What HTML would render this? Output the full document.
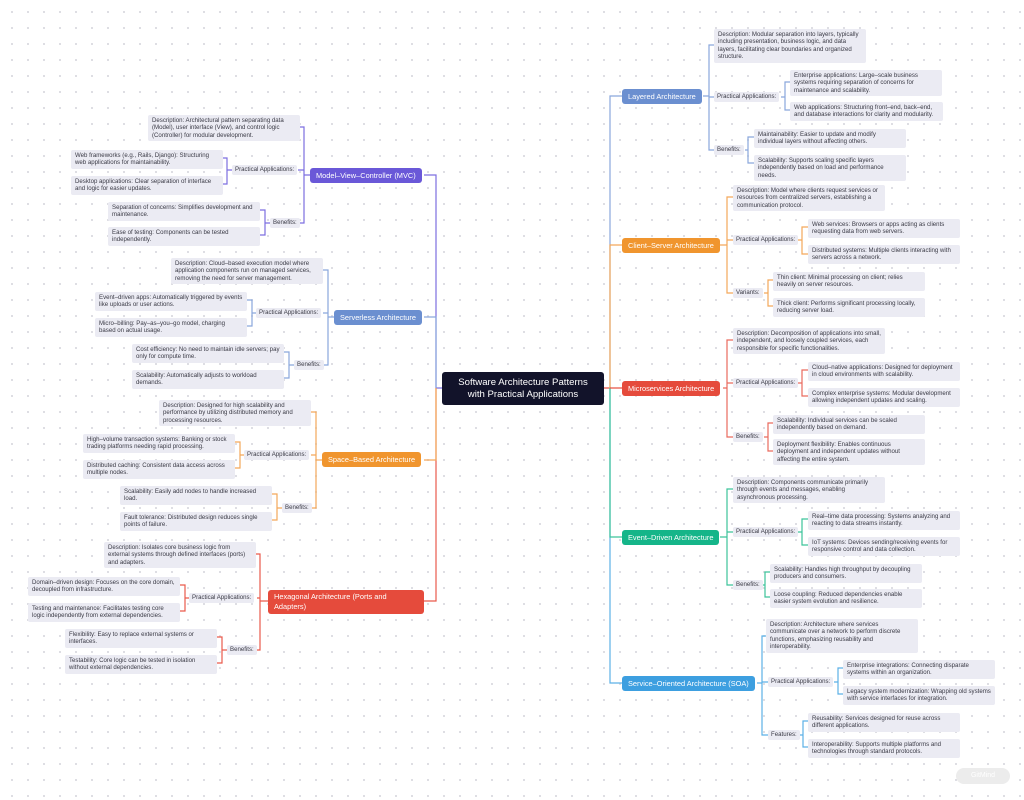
<!DOCTYPE html>
<html><head><meta charset="utf-8"><style>
html,body{margin:0;padding:0}
body{width:1024px;height:800px;position:relative;overflow:hidden;background-color:#fff;background-image:radial-gradient(circle,#d8d8de 0.8px,transparent 1.2px);background-size:16px 16px;background-position:4px 4px;font-family:"Liberation Sans",sans-serif}
.b{position:absolute;background:#ebebf3;color:#3a3a45;font-size:6.1px;line-height:7.4px;padding:2px 4px;border-radius:2px;box-sizing:border-box}
.l{position:absolute;background:#ebebf3;color:#3a3a45;font-size:6.1px;line-height:9px;height:10px;padding:0 3px;border-radius:2px;white-space:nowrap}
.m{position:absolute;color:#fff;font-size:7.4px;line-height:15px;height:15px;padding:0 6px;border-radius:3px;white-space:nowrap;box-sizing:border-box}
svg{position:absolute;left:0;top:0}
</style></head><body>
<svg width="1024" height="800" fill="none" stroke-width="1.2">
<!-- right trunk -->
<path d="M604 388H610" stroke="#e54b3c"/>
<path d="M610 388V96H622" stroke="#8aa7dc"/>
<path d="M610 388V245H622" stroke="#f3a85a"/>
<path d="M610 388V683H622" stroke="#5cb0e6"/>
<path d="M610 388V537H622" stroke="#3cc39a"/>
<path d="M610 388H622" stroke="#e54b3c"/>
<!-- left trunk -->
<path d="M442 388H436V175H424" stroke="#7d6fe0"/>
<path d="M436 388V317H424" stroke="#8aa7dc"/>
<path d="M436 388V601H424" stroke="#ea5a4c"/>
<path d="M436 388V460H424" stroke="#f3a85a"/>
<!-- Layered -->
<g stroke="#8aa7dc"><path d="M703 96H709M714 45H709V150H714M709 97H714"/><path d="M781 97H785M790 82H785V110H790"/><path d="M745 150H748M754 137H748V163H754"/></g>
<!-- Client -->
<g stroke="#f3a85a"><path d="M720 245H727M733 197H727V293H733M727 240H733"/><path d="M798 240H802M808 227H802V254H808"/><path d="M764 293H768M773 280H768V306H773"/></g>
<!-- Micro -->
<g stroke="#ea6a5d"><path d="M723 388H727M733 340H727V437H733M727 383H733"/><path d="M798 383H802M808 370H802V396H808"/><path d="M764 437H768M773 423H768V451H773"/></g>
<!-- Event -->
<g stroke="#3cc39a"><path d="M720 537H727M733 489H727V585H733M727 532H733"/><path d="M798 532H802M808 519H802V545H808"/><path d="M762 585H765M770 572H765V597H770"/></g>
<!-- SOA -->
<g stroke="#5cb0e6"><path d="M757 683H762M766 636H762V735H770M762 682H770"/><path d="M834 682H838M843 668H838V694H843"/><path d="M799 735H803M808 721H803V747H808"/></g>
<!-- MVC -->
<g stroke="#7d6fe0"><path d="M310 175H304M300 127H304V223H298M304 170H298"/><path d="M232 170H227M223 158H227V184H223"/><path d="M270 223H265M260 210H265V235H260"/></g>
<!-- Serverless -->
<g stroke="#8aa7dc"><path d="M334 317H328M323 270H328V365H323M328 313H323"/><path d="M258 313H252M247 300H252V326H247"/><path d="M296 365H289M284 352H289V378H284"/></g>
<!-- Space -->
<g stroke="#f3a85a"><path d="M322 460H316M311 412H316V508H311M316 455H311"/><path d="M246 455H240M235 442H240V468H235"/><path d="M284 508H277M272 494H277V520H272"/></g>
<!-- Hex -->
<g stroke="#ea5a4c"><path d="M268 601H260M255 554H260V650H257M260 598H257"/><path d="M191 598H185M180 585H185V611H180"/><path d="M229 650H222M217 637H222V663H217"/></g>
</svg>

<div style="position:absolute;left:442px;top:372px;width:162px;height:33px;background:#12132a;border-radius:3px;color:#fff;font-size:9.6px;line-height:11.5px;text-align:center;padding-top:5px;box-sizing:border-box">Software Architecture Patterns<br>with Practical Applications</div>

<!-- Right main -->
<div class="m" style="left:622px;top:89px;background:#6b8fd0">Layered Architecture</div>
<div class="m" style="left:622px;top:238px;background:#f0952e">Client–Server Architecture</div>
<div class="m" style="left:622px;top:381px;background:#e54b3c">Microservices Architecture</div>
<div class="m" style="left:622px;top:530px;background:#15b589">Event–Driven Architecture</div>
<div class="m" style="left:622px;top:676px;background:#3d9fe0">Service–Oriented Architecture (SOA)</div>
<!-- Left main -->
<div class="m" style="left:310px;top:168px;background:#6a58d8">Model–View–Controller (MVC)</div>
<div class="m" style="left:334px;top:310px;background:#6b8fd0">Serverless Architecture</div>
<div class="m" style="left:322px;top:452px;background:#f0952e">Space–Based Architecture</div>
<div class="m" style="left:268px;top:590px;height:24px;line-height:10px;padding-top:2px;width:156px;white-space:normal;background:#e54b3c">Hexagonal Architecture (Ports and Adapters)</div>

<!-- Layered -->
<div class="b" style="left:714px;top:29px;width:152px">Description: Modular separation into layers, typically including presentation, business logic, and data layers, facilitating clear boundaries and organized structure.</div>
<div class="l" style="left:714px;top:92px">Practical Applications:</div>
<div class="b" style="left:790px;top:70px;width:152px">Enterprise applications: Large–scale business systems requiring separation of concerns for maintenance and scalability.</div>
<div class="b" style="left:790px;top:102px;width:153px">Web applications: Structuring front–end, back–end, and database interactions for clarity and modularity.</div>
<div class="l" style="left:714px;top:145px">Benefits:</div>
<div class="b" style="left:754px;top:129px;width:152px">Maintainability: Easier to update and modify individual layers without affecting others.</div>
<div class="b" style="left:754px;top:155px;width:152px">Scalability: Supports scaling specific layers independently based on load and performance needs.</div>

<!-- Client -->
<div class="b" style="left:733px;top:185px;width:152px">Description: Model where clients request services or resources from centralized servers, establishing a communication protocol.</div>
<div class="l" style="left:733px;top:235px">Practical Applications:</div>
<div class="b" style="left:808px;top:219px;width:152px">Web services: Browsers or apps acting as clients requesting data from web servers.</div>
<div class="b" style="left:808px;top:245px;width:152px">Distributed systems: Multiple clients interacting with servers across a network.</div>
<div class="l" style="left:733px;top:288px">Variants:</div>
<div class="b" style="left:773px;top:272px;width:152px">Thin client: Minimal processing on client; relies heavily on server resources.</div>
<div class="b" style="left:773px;top:298px;width:152px">Thick client: Performs significant processing locally, reducing server load.</div>

<!-- Micro -->
<div class="b" style="left:733px;top:328px;width:152px">Description: Decomposition of applications into small, independent, and loosely coupled services, each responsible for specific functionalities.</div>
<div class="l" style="left:733px;top:378px">Practical Applications:</div>
<div class="b" style="left:808px;top:362px;width:152px">Cloud–native applications: Designed for deployment in cloud environments with scalability.</div>
<div class="b" style="left:808px;top:388px;width:152px">Complex enterprise systems: Modular development allowing independent updates and scaling.</div>
<div class="l" style="left:733px;top:432px">Benefits:</div>
<div class="b" style="left:773px;top:415px;width:152px">Scalability: Individual services can be scaled independently based on demand.</div>
<div class="b" style="left:773px;top:439px;width:152px">Deployment flexibility: Enables continuous deployment and independent updates without affecting the entire system.</div>

<!-- Event -->
<div class="b" style="left:733px;top:477px;width:152px">Description: Components communicate primarily through events and messages, enabling asynchronous processing.</div>
<div class="l" style="left:733px;top:527px">Practical Applications:</div>
<div class="b" style="left:808px;top:511px;width:152px">Real–time data processing: Systems analyzing and reacting to data streams instantly.</div>
<div class="b" style="left:808px;top:537px;width:152px">IoT systems: Devices sending/receiving events for responsive control and data collection.</div>
<div class="l" style="left:733px;top:580px">Benefits:</div>
<div class="b" style="left:770px;top:564px;width:152px">Scalability: Handles high throughput by decoupling producers and consumers.</div>
<div class="b" style="left:770px;top:589px;width:152px">Loose coupling: Reduced dependencies enable easier system evolution and resilience.</div>

<!-- SOA -->
<div class="b" style="left:766px;top:619px;width:152px">Description: Architecture where services communicate over a network to perform discrete functions, emphasizing reusability and interoperability.</div>
<div class="l" style="left:768px;top:677px">Practical Applications:</div>
<div class="b" style="left:843px;top:660px;width:152px">Enterprise integrations: Connecting disparate systems within an organization.</div>
<div class="b" style="left:843px;top:686px;width:152px">Legacy system modernization: Wrapping old systems with service interfaces for integration.</div>
<div class="l" style="left:768px;top:730px">Features:</div>
<div class="b" style="left:808px;top:713px;width:152px">Reusability: Services designed for reuse across different applications.</div>
<div class="b" style="left:808px;top:739px;width:152px">Interoperability: Supports multiple platforms and technologies through standard protocols.</div>

<!-- MVC -->
<div class="b" style="left:148px;top:115px;width:152px">Description: Architectural pattern separating data (Model), user interface (View), and control logic (Controller) for modular development.</div>
<div class="l" style="left:232px;top:165px">Practical Applications:</div>
<div class="b" style="left:71px;top:150px;width:152px">Web frameworks (e.g., Rails, Django): Structuring web applications for maintainability.</div>
<div class="b" style="left:71px;top:176px;width:152px">Desktop applications: Clear separation of interface and logic for easier updates.</div>
<div class="l" style="left:270px;top:218px">Benefits:</div>
<div class="b" style="left:108px;top:202px;width:152px">Separation of concerns: Simplifies development and maintenance.</div>
<div class="b" style="left:108px;top:227px;width:152px">Ease of testing: Components can be tested independently.</div>

<!-- Serverless -->
<div class="b" style="left:171px;top:258px;width:152px">Description: Cloud–based execution model where application components run on managed services, removing the need for server management.</div>
<div class="l" style="left:256px;top:308px">Practical Applications:</div>
<div class="b" style="left:95px;top:292px;width:152px">Event–driven apps: Automatically triggered by events like uploads or user actions.</div>
<div class="b" style="left:95px;top:318px;width:152px">Micro–billing: Pay–as–you–go model, charging based on actual usage.</div>
<div class="l" style="left:294px;top:360px">Benefits:</div>
<div class="b" style="left:132px;top:344px;width:152px">Cost efficiency: No need to maintain idle servers; pay only for compute time.</div>
<div class="b" style="left:132px;top:370px;width:152px">Scalability: Automatically adjusts to workload demands.</div>

<!-- Space -->
<div class="b" style="left:159px;top:400px;width:152px">Description: Designed for high scalability and performance by utilizing distributed memory and processing resources.</div>
<div class="l" style="left:244px;top:450px">Practical Applications:</div>
<div class="b" style="left:83px;top:434px;width:152px">High–volume transaction systems: Banking or stock trading platforms needing rapid processing.</div>
<div class="b" style="left:83px;top:460px;width:152px">Distributed caching: Consistent data access across multiple nodes.</div>
<div class="l" style="left:282px;top:503px">Benefits:</div>
<div class="b" style="left:120px;top:486px;width:152px">Scalability: Easily add nodes to handle increased load.</div>
<div class="b" style="left:120px;top:512px;width:152px">Fault tolerance: Distributed design reduces single points of failure.</div>

<!-- Hex -->
<div class="b" style="left:104px;top:542px;width:152px">Description: Isolates core business logic from external systems through defined interfaces (ports) and adapters.</div>
<div class="l" style="left:189px;top:593px">Practical Applications:</div>
<div class="b" style="left:28px;top:577px;width:152px">Domain–driven design: Focuses on the core domain, decoupled from infrastructure.</div>
<div class="b" style="left:28px;top:603px;width:152px">Testing and maintenance: Facilitates testing core logic independently from external dependencies.</div>
<div class="l" style="left:227px;top:645px">Benefits:</div>
<div class="b" style="left:65px;top:629px;width:152px">Flexibility: Easy to replace external systems or interfaces.</div>
<div class="b" style="left:65px;top:655px;width:152px">Testability: Core logic can be tested in isolation without external dependencies.</div>

<div style="position:absolute;left:956px;top:768px;width:54px;height:16px;border-radius:8px;background:#ececec;color:#fff;font-size:7px;line-height:16px;text-align:center">GitMind</div>
</body></html>
